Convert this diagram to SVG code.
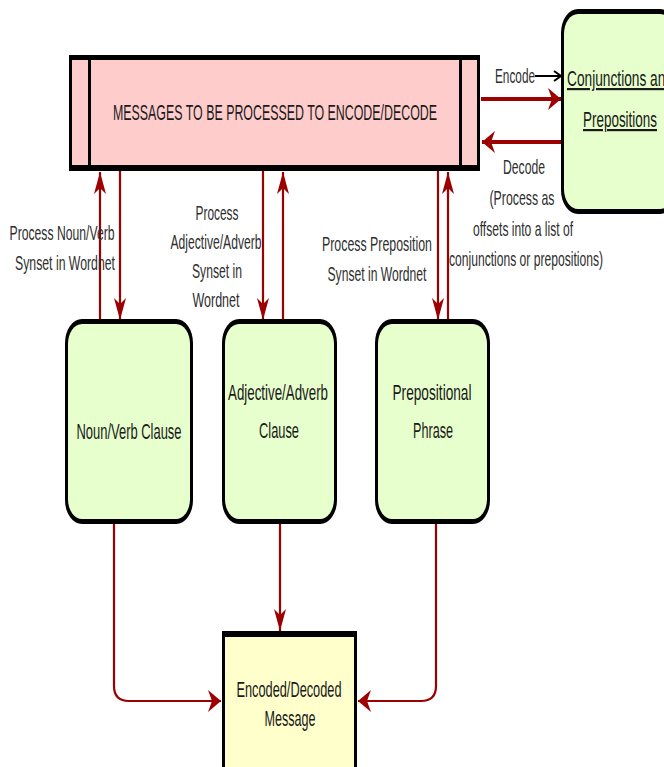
<svg xmlns="http://www.w3.org/2000/svg" width="664" height="767" viewBox="0 0 664 767">
<style>
  text { font-family: "Liberation Sans", Arial, sans-serif; fill: #1a1a1a; text-anchor: middle; }
  .t { font-size: 22px; }
  .lbl { font-size: 21px; fill: #2e2e2e; }
  .title { font-size: 22px; }
  .red { fill: none; stroke: #9c0000; stroke-width: 2.2; }
  .redh { fill: none; stroke: #9c0000; stroke-width: 4; }
  .blk { fill: #000; }
</style>
<defs>
  <marker id="arrV" markerUnits="userSpaceOnUse" markerWidth="24" markerHeight="12" refX="22" refY="6" orient="auto" overflow="visible">
    <path d="M0,0 L22,6 L0,12 L6,6 Z" fill="#9c0000"/>
  </marker>
  <marker id="arrH" markerUnits="userSpaceOnUse" markerWidth="14" markerHeight="22" refX="13" refY="11" orient="auto" overflow="visible">
    <path d="M0,0 L13,11 L0,22 L4,11 Z" fill="#9c0000"/>
  </marker>
  <marker id="arrK" markerUnits="userSpaceOnUse" markerWidth="10" markerHeight="12" refX="8" refY="6" orient="auto" overflow="visible">
    <path d="M1,1 L8,6 L1,11" fill="none" stroke="#000" stroke-width="2"/>
  </marker>
</defs>

<g id="connectors">
  <path class="red" d="M100,321 V172" marker-end="url(#arrV)"/>
  <path class="red" d="M120,171 V320" marker-end="url(#arrV)"/>
  <path class="red" d="M263,171 V320" marker-end="url(#arrV)"/>
  <path class="red" d="M283,321 V172" marker-end="url(#arrV)"/>
  <path class="red" d="M438,171 V320" marker-end="url(#arrV)"/>
  <path class="red" d="M448,321 V172" marker-end="url(#arrV)"/>
  <path class="redh" d="M481,99 H561" marker-end="url(#arrH)"/>
  <path class="redh" d="M561,142 H482" marker-end="url(#arrH)"/>
  <path d="M535,76 H561" fill="none" stroke="#000" stroke-width="2" marker-end="url(#arrK)"/>
  <path class="red" d="M114,524 V686 Q114,701 129,701 H221" marker-end="url(#arrH)"/>
  <path class="red" d="M280,524 V631" marker-end="url(#arrV)"/>
  <path class="red" d="M436,524 V686 Q436,701 421,701 H358" marker-end="url(#arrH)"/>
  <g id="edge-labels">
    <text class="lbl" x="515" y="83" textLength="40" lengthAdjust="spacingAndGlyphs">Encode</text>
    <text class="lbl" x="524" y="174" textLength="42" lengthAdjust="spacingAndGlyphs">Decode</text>
    <text class="lbl" x="522" y="205" textLength="65" lengthAdjust="spacingAndGlyphs">(Process as</text>
    <text class="lbl" x="523" y="236" textLength="100" lengthAdjust="spacingAndGlyphs">offsets into a list of</text>
    <text class="lbl" x="526" y="266" textLength="154" lengthAdjust="spacingAndGlyphs">conjunctions or prepositions)</text>
    <text class="lbl" x="62" y="240" textLength="105" lengthAdjust="spacingAndGlyphs">Process Noun/Verb</text>
    <text class="lbl" x="65" y="270" textLength="100" lengthAdjust="spacingAndGlyphs">Synset in Wordnet</text>
    <text class="lbl" x="217" y="220" textLength="43" lengthAdjust="spacingAndGlyphs">Process</text>
    <text class="lbl" x="216" y="249" textLength="91" lengthAdjust="spacingAndGlyphs">Adjective/Adverb</text>
    <text class="lbl" x="217" y="278" textLength="50" lengthAdjust="spacingAndGlyphs">Synset in</text>
    <text class="lbl" x="216" y="307" textLength="47" lengthAdjust="spacingAndGlyphs">Wordnet</text>
    <text class="lbl" x="377" y="251" textLength="110" lengthAdjust="spacingAndGlyphs">Process Preposition</text>
    <text class="lbl" x="377" y="281" textLength="99" lengthAdjust="spacingAndGlyphs">Synset in Wordnet</text>
  </g>
</g>

<g id="messages">
  <rect class="blk" x="69" y="55" width="411" height="116"/>
  <rect x="72" y="60" width="405" height="105" fill="#ffcccc"/>
  <rect class="blk" x="88" y="60" width="3" height="105"/>
  <rect class="blk" x="459" y="60" width="3" height="105"/>
  <text class="title" x="275" y="120" textLength="324" lengthAdjust="spacingAndGlyphs">MESSAGES TO BE PROCESSED TO ENCODE/DECODE</text>
</g>

<g id="conjunctions">
  <rect class="blk" x="561" y="9" width="116" height="205" rx="17" ry="24"/>
  <rect x="564" y="14" width="110" height="195" rx="14" ry="20" fill="#e6ffcc"/>
  <text class="t" x="620" y="86" textLength="106" lengthAdjust="spacingAndGlyphs" text-decoration="underline">Conjunctions and</text>
  <text class="t" x="620" y="127" textLength="74" lengthAdjust="spacingAndGlyphs" text-decoration="underline">Prepositions</text>
</g>

<g id="noun-verb">
  <rect class="blk" x="65" y="319" width="128" height="205" rx="17" ry="24"/>
  <rect x="68" y="324" width="122" height="195" rx="14" ry="20" fill="#e6ffcc"/>
  <text class="t" x="129" y="439" textLength="105" lengthAdjust="spacingAndGlyphs">Noun/Verb Clause</text>
</g>

<g id="adjective-adverb">
  <rect class="blk" x="222" y="319" width="115" height="205" rx="17" ry="24"/>
  <rect x="225" y="324" width="109" height="195" rx="14" ry="20" fill="#e6ffcc"/>
  <text class="t" x="278" y="400" textLength="100" lengthAdjust="spacingAndGlyphs">Adjective/Adverb</text>
  <text class="t" x="279" y="438" textLength="40" lengthAdjust="spacingAndGlyphs">Clause</text>
</g>

<g id="prepositional">
  <rect class="blk" x="375" y="319" width="115" height="205" rx="17" ry="24"/>
  <rect x="378" y="324" width="109" height="195" rx="14" ry="20" fill="#e6ffcc"/>
  <text class="t" x="432" y="400" textLength="79" lengthAdjust="spacingAndGlyphs">Prepositional</text>
  <text class="t" x="433" y="438" textLength="40" lengthAdjust="spacingAndGlyphs">Phrase</text>
</g>

<g id="encoded-decoded">
  <rect class="blk" x="222" y="631" width="135" height="145"/>
  <rect x="225" y="637" width="129" height="135" fill="#ffffcc"/>
  <text class="t" x="289" y="697" textLength="105" lengthAdjust="spacingAndGlyphs">Encoded/Decoded</text>
  <text class="t" x="290" y="726" textLength="51" lengthAdjust="spacingAndGlyphs">Message</text>
</g>
</svg>
